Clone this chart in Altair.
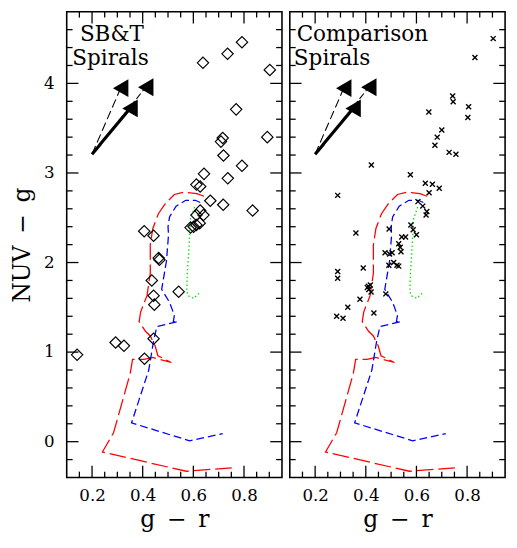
import altair as alt
import pandas as pd

# ---------------- data ----------------
sbt_gr = [0.792, 0.735, 0.638, 0.902, 0.769, 0.716, 0.709, 0.892, 0.719, 0.792,
          0.642, 0.736, 0.612, 0.627, 0.667, 0.718, 0.834, 0.589, 0.612, 0.625,
          0.612, 0.627, 0.640, 0.601, 0.406, 0.443, 0.463, 0.466, 0.436, 0.542,
          0.443, 0.446, 0.443, 0.293, 0.326, 0.407, 0.141]
sbt_nuvg = [4.46, 4.33, 4.23, 4.15, 3.71, 3.39, 3.35, 3.40, 3.195, 3.08,
            2.99, 2.94, 2.87, 2.85, 2.69, 2.645, 2.58, 2.39, 2.42, 2.44,
            2.53, 2.58, 2.53, 2.40, 2.35, 2.30, 2.05, 2.03, 1.80, 1.675,
            1.63, 1.53, 1.15, 1.107, 1.07, 0.927, 0.97]

comp_gr = [0.903, 0.831, 0.743, 0.745, 0.806, 0.649, 0.803, 0.700, 0.682, 0.673,
           0.729, 0.756, 0.422, 0.576, 0.635, 0.663, 0.690, 0.650, 0.289, 0.606,
           0.625, 0.641, 0.638, 0.492, 0.578, 0.587, 0.600, 0.361, 0.542, 0.557,
           0.530, 0.536, 0.539, 0.476, 0.494, 0.504, 0.491, 0.510, 0.523, 0.530,
           0.289, 0.289, 0.390, 0.406, 0.418, 0.412, 0.421, 0.410, 0.377, 0.479,
           0.329, 0.285, 0.310, 0.432]
comp_nuvg = [4.50, 4.29, 3.86, 3.795, 3.74, 3.68, 3.62, 3.48, 3.40, 3.31,
             3.23, 3.21, 3.09, 2.98, 2.886, 2.875, 2.83, 2.78, 2.75, 2.68,
             2.63, 2.57, 2.53, 2.375, 2.42, 2.365, 2.31, 2.33, 2.286, 2.286,
             2.21, 2.17, 2.12, 2.11, 2.095, 2.11, 1.97, 2.00, 1.97, 1.96,
             1.90, 1.825, 1.94, 1.72, 1.75, 1.70, 1.67, 1.735, 1.59, 1.65,
             1.50, 1.40, 1.377, 1.437]

# model tracks
red_gr = [0.642, 0.614, 0.563, 0.525, 0.487, 0.462, 0.440, 0.430, 0.430, 0.417,
          0.392, 0.386, 0.411, 0.430, 0.449, 0.460, 0.513, 0.440, 0.405, 0.360,
          0.351, 0.285, 0.241, 0.572, 0.759]
red_nuvg = [2.74, 2.77, 2.785, 2.76, 2.65, 2.545, 2.38, 2.20, 1.88, 1.63,
            1.45, 1.34, 1.232, 1.18, 1.07, 0.96, 0.884, 0.94, 0.92, 0.92,
            0.765, 0.10, -0.115, -0.33, -0.29]

blue_gr = [0.627, 0.608, 0.570, 0.532, 0.506, 0.500, 0.502, 0.494, 0.475, 0.506,
           0.525, 0.521, 0.538, 0.456, 0.443, 0.424, 0.356, 0.585, 0.716]
blue_nuvg = [2.67, 2.695, 2.695, 2.63, 2.51, 2.40, 2.31, 2.02, 1.70, 1.556,
             1.41, 1.34, 1.34, 1.286, 1.125, 0.80, 0.21, 0.01, 0.09]

green_gr = [0.605, 0.589, 0.582, 0.576, 0.574, 0.579, 0.601, 0.624]
green_nuvg = [2.62, 2.49, 2.13, 1.88, 1.68, 1.63, 1.60, 1.66]

# arrows
arrow_style = ["solid", "dashed", "dashdot"]
arrow_x0 = [0.200, 0.200, 0.200]
arrow_y0 = [3.21, 3.21, 3.21]
arrow_x1 = [0.350, 0.313, 0.412]
arrow_y1 = [3.72, 3.946, 3.957]

# panel labels
left_label = ["SB&T", "Spirals"]
left_label_x = [0.152, 0.122]
left_label_y = [4.47, 4.21]
right_label = ["Comparison", "Spirals"]
right_label_x = [0.127, 0.116]
right_label_y = [4.47, 4.21]

# ticks
x_major = [0.2, 0.4, 0.6, 0.8]
x_minor = [0.15, 0.25, 0.3, 0.35, 0.45, 0.5, 0.55, 0.65, 0.7, 0.75, 0.85, 0.9]
y_major = [0, 1, 2, 3, 4]
y_minor = [-0.2, 0.2, 0.4, 0.6, 0.8, 1.2, 1.4, 1.6, 1.8, 2.2, 2.4, 2.6, 2.8,
           3.2, 3.4, 3.6, 3.8, 4.2, 4.4, 4.6]

# ---------------- chart ----------------
W, H = 220, 476
XDOM = [0.1, 0.95]
YDOM = [-0.4, 4.8]
FONT = "DejaVu Serif"
MAJ, MIN = 12, 6  # tick lengths in px


def X():
    return alt.X("gr:Q", scale=alt.Scale(domain=XDOM, nice=False, zero=False),
                 axis=alt.Axis(values=x_major, format=".1f", title="g\u2002\u2212\u2002r",
                               ticks=False, tickSize=0, domain=False, grid=False,
                               labelPadding=10, labelFont=FONT, labelFontSize=17,
                               labelColor="black", titleFont=FONT, titleFontSize=24,
                               titleFontWeight="normal", titleColor="black",
                               titlePadding=5))


def Y(show):
    sc = alt.Scale(domain=YDOM, nice=False, zero=False)
    if show:
        ax = alt.Axis(values=y_major, format="d", title="NUV\u2002\u2212\u2002g",
                      ticks=False, tickSize=0, domain=False, grid=False,
                      labelPadding=13, labelFont=FONT, labelFontSize=17,
                      labelColor="black", titleFont=FONT, titleFontSize=24,
                      titleFontWeight="normal", titleColor="black", titlePadding=9)
        return alt.Y("nuvg:Q", scale=sc, axis=ax)
    return alt.Y("nuvg:Q", scale=sc, axis=None)


tracks = [
    (red_gr, red_nuvg, "#ff0000", [17, 5]),
    (blue_gr, blue_nuvg, "#0000ff", [8, 4]),
    (green_gr, green_nuvg, "#00e000", [1.5, 2.5]),
]

# tick-length conversion from px to data units (frame decoration)
dx_px = (XDOM[1] - XDOM[0]) / W
dy_px = (YDOM[1] - YDOM[0]) / H


def tick_segments():
    rows = []
    tid = 0
    for vals, L in ((y_major, MAJ), (y_minor, MIN)):
        for v in vals:
            for x0, sgn in ((XDOM[0], 1), (XDOM[1], -1)):
                rows.append({"tid": tid, "i": 0, "gr": x0, "nuvg": v})
                rows.append({"tid": tid, "i": 1, "gr": x0 + sgn * L * dx_px, "nuvg": v})
                tid += 1
    for vals, L in ((x_major, MAJ), (x_minor, MIN)):
        for v in vals:
            for y0, sgn in ((YDOM[0], 1), (YDOM[1], -1)):
                rows.append({"tid": tid, "i": 0, "gr": v, "nuvg": y0})
                rows.append({"tid": tid, "i": 1, "gr": v, "nuvg": y0 + sgn * L * dy_px})
                tid += 1
    return pd.DataFrame(rows)


def panel(show_y, pts_df, point_mark, labels_df):
    y = Y(show_y)
    layers = []

    for gr, nuvg, color, dash in tracks:
        df = pd.DataFrame({"gr": gr, "nuvg": nuvg, "i": list(range(len(gr)))})
        layers.append(alt.Chart(df).mark_line(color=color, strokeDash=dash,
                                              strokeWidth=1.3)
                      .encode(x=X(), y=y, order="i:Q"))
    layers.append(alt.Chart(pts_df).mark_point(**point_mark).encode(x=X(), y=y))

    # arrows
    arr_rows = []
    for s, x0, y0, x1, y1 in zip(arrow_style, arrow_x0, arrow_y0, arrow_x1, arrow_y1):
        arr_rows.append({"style": s, "gr": x0, "nuvg": y0, "i": 0})
        arr_rows.append({"style": s, "gr": x1, "nuvg": y1, "i": 1})
    arr = pd.DataFrame(arr_rows)
    styles = {"solid": (3.2, [1, 0]), "dashed": (1.1, [9, 4]), "dashdot": (1.1, [7, 3, 1.5, 3])}
    for s, (sw, dash) in styles.items():
        layers.append(alt.Chart(arr[arr["style"] == s]).mark_line(
            color="black", strokeWidth=sw, strokeDash=dash).encode(x=X(), y=y, order="i:Q"))
    heads = pd.DataFrame({"gr": arrow_x1, "nuvg": arrow_y1})
    layers.append(alt.Chart(heads).mark_point(shape="triangle-left", filled=True,
                                              color="black", opacity=1, size=330)
                  .encode(x=X(), y=y))

    # labels
    layers.append(alt.Chart(labels_df).mark_text(align="left", baseline="alphabetic",
                                                 font=FONT, fontSize=22, color="black")
                  .encode(x=X(), y=y, text="label:N"))

    # frame ticks (inward) as short line segments
    ts = tick_segments()
    layers.append(alt.Chart(ts).mark_line(color="black", strokeWidth=1.3)
                  .encode(x=X(), y=y, detail="tid:N", order="i:Q"))

    return alt.layer(*layers).properties(width=W, height=H)


sbt_df = pd.DataFrame({"gr": sbt_gr, "nuvg": sbt_nuvg})
comp_df = pd.DataFrame({"gr": comp_gr, "nuvg": comp_nuvg})
left_lab = pd.DataFrame({"gr": left_label_x, "nuvg": left_label_y, "label": left_label})
right_lab = pd.DataFrame({"gr": right_label_x, "nuvg": right_label_y, "label": right_label})

left = panel(True, sbt_df,
             dict(shape="diamond", filled=False, color="black", size=135,
                  strokeWidth=1.2, opacity=1), left_lab)
right = panel(False, comp_df,
              dict(shape="M-1,-1L1,1M-1,1L1,-1", filled=False, color="black",
                   size=26, strokeWidth=1.4, opacity=1), right_lab)

chart = alt.hconcat(left, right, spacing=0).properties(
    padding={"left": 2, "top": -6, "right": 0, "bottom": 0}
).configure(background="white").configure_view(stroke="black", strokeWidth=1.6)

chart.save("out.html", embed_options={"renderer": "svg", "actions": False})
